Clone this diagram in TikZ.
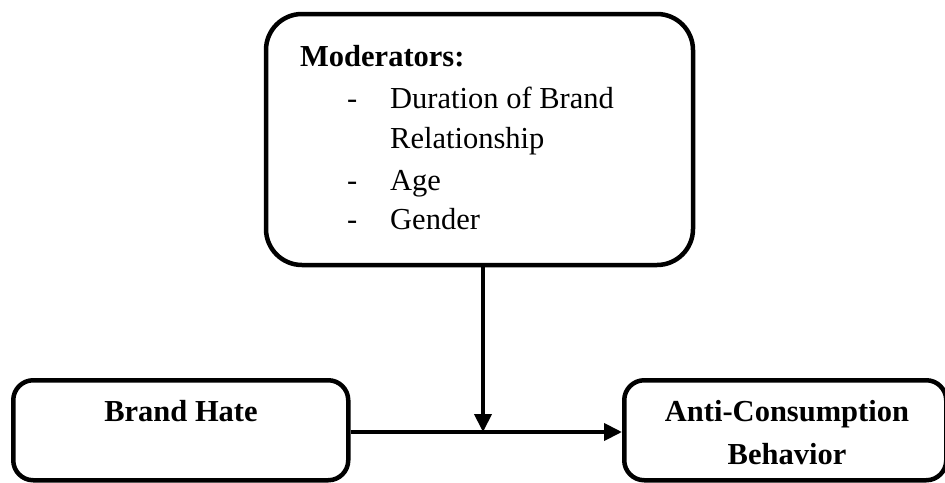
\documentclass[tikz,border=0pt]{standalone}
\usepackage{fontspec}
\setmainfont{Liberation Serif}
\usetikzlibrary{arrows.meta}
\begin{document}
\begin{tikzpicture}[x=1pt,y=-1pt,
  box/.style={draw=black,line width=4.5pt,rounded corners=#1},
  conn/.style={line width=4pt,-{Triangle[length=18pt,width=17pt]}},
  txt/.style={font=\fontsize{30.5}{40}\selectfont,inner sep=0pt}]
\useasboundingbox (0,0) rectangle (945,482);
\fill[white] (0,0) rectangle (945,482);
% boxes
\draw[box=36pt] (266,14) rectangle (693,265);
\node[box=20pt,minimum width=335pt,minimum height=100pt,anchor=north west] (bh) at (11,378) {};
\node[box=20pt,minimum width=322pt,minimum height=100pt,anchor=north west] (ac) at (622,378) {};
\coordinate (mod) at (483,265);
% moderator text
\node[txt,anchor=base west,font=\fontsize{30.5}{40}\selectfont\bfseries] (m0) at (300,66) {Moderators:};
\node[txt,anchor=base west] (d1) at (347,108) {-};
\node[txt,anchor=base west] (t1) at (390,108) {Duration of Brand};
\node[txt,anchor=base west] (t2) at (390,148) {Relationship};
\node[txt,anchor=base west] (d3) at (347,190) {-};
\node[txt,anchor=base west] (t3) at (390,190) {Age};
\node[txt,anchor=base west] (d4) at (347,229) {-};
\node[txt,anchor=base west] (t4) at (390,229) {Gender};
% bottom texts
\node[txt,anchor=base,font=\fontsize{30.5}{40}\selectfont\bfseries] (bht) at (181,421) {Brand Hate};
\node[txt,anchor=base,font=\fontsize{30.5}{40}\selectfont\bfseries] (act1) at (787,421) {Anti-Consumption};
\node[txt,anchor=base,font=\fontsize{30.5}{40}\selectfont\bfseries] (act2) at (787,464) {Behavior};
% connectors
\coordinate (j) at (483,432);
\draw[conn] (bh.east |- j) -- (ac.west |- j);
\draw[conn] (mod) -- (j);
\end{tikzpicture}
\end{document}
